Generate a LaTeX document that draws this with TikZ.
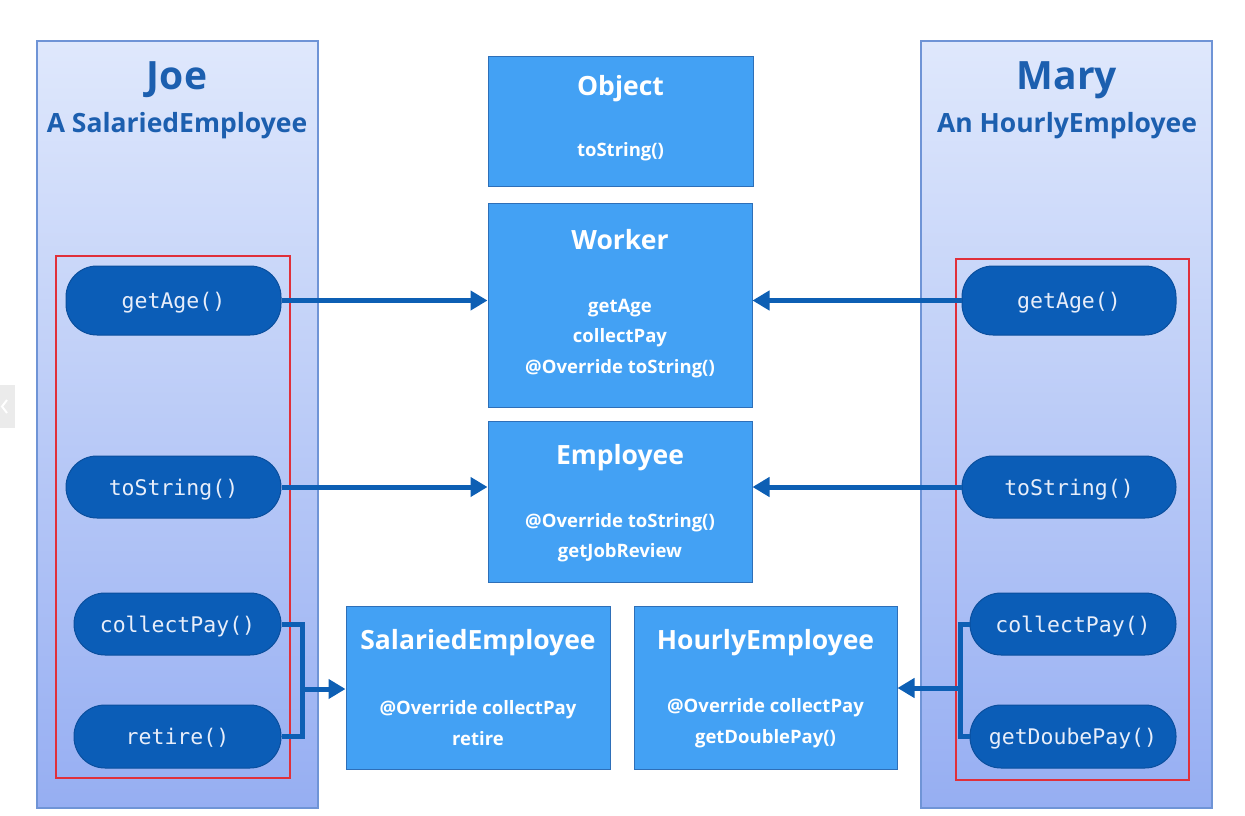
\documentclass[tikz,border=0pt]{standalone}
\usepackage{fontspec}
\setmainfont{Open Sans}
\setmonofont{DejaVu Sans Mono}
\usetikzlibrary{arrows.meta}
\definecolor{panelTop}{HTML}{DFE8FC}
\definecolor{panelBot}{HTML}{96AEF2}
\definecolor{panelEdge}{HTML}{6F94D6}
\definecolor{redEdge}{HTML}{E0303A}
\definecolor{boxFill}{HTML}{43A1F4}
\definecolor{boxEdge}{HTML}{2E6FB8}
\definecolor{pillFill}{HTML}{0B5DB7}
\definecolor{pillEdge}{HTML}{0A4F9E}
\definecolor{pillText}{HTML}{E8EEFA}
\definecolor{connCol}{HTML}{0D5FB4}
\definecolor{headCol}{HTML}{1C5FAF}
\tikzset{
  panel/.style={draw=panelEdge, line width=1.5pt, top color=panelTop, bottom color=panelBot, minimum width=#1, minimum height=767pt, inner sep=0pt},
  redbox/.style={draw=redEdge, line width=2pt},
  classbox/.style={draw=boxEdge, line width=1pt, fill=boxFill, inner sep=0pt},
  pill/.style={draw=pillEdge, line width=1pt, fill=pillFill, text=pillText, rounded corners=31pt, inner sep=0pt, text depth=0pt, font=\ttfamily\fontsize{21.5}{24}\selectfont},
  ctitle/.style={text=white, font=\bfseries\fontsize{26.5}{32}\selectfont},
  cbody/.style={text=white, font=\bfseries\fontsize{18.5}{30.5}\selectfont, align=center},
  pname/.style={text=headCol, font=\bfseries\fontsize{39}{44}\selectfont},
  ptype/.style={text=headCol, font=\bfseries\fontsize{26.5}{30}\selectfont},
  conn/.style={draw=connCol, line width=5pt, -{Triangle[length=17pt,width=19pt]}},
  connline/.style={draw=connCol, line width=5pt},
}
\begin{document}
\begin{tikzpicture}[x=1pt,y=-1pt]
\useasboundingbox[fill=white] (0,0) rectangle (1245,816);
% side tab
\fill[black!8] (0,385) rectangle (15,428);
\draw[white, line width=2pt] (7,400) -- (2,406.5) -- (7,413);
% panels
\node[panel=281pt] (joe) at (177.5,424.5) {};
\node[panel=291pt] (mary) at (1066.5,424.5) {};
\node[pname] (joename) at (177,80) {Joe};
\node[ptype] (joetype) at (177,126) {A SalariedEmployee};
\node[pname] (maryname) at (1067,80) {Mary};
\node[ptype] (marytype) at (1067,126) {An HourlyEmployee};
\draw[redbox] (56,256) rectangle (290,778);
\draw[redbox] (956,259) rectangle (1189,780);
% class boxes
\node[classbox, minimum width=265pt, minimum height=129pt] (obj) at (620.5,121.5) {};
\node[classbox, minimum width=264pt, minimum height=204pt] (wk) at (620,305) {};
\node[classbox, minimum width=264pt, minimum height=161pt] (emp) at (620,501.5) {};
\node[classbox, minimum width=264pt, minimum height=163pt] (se) at (478,687.5) {};
\node[classbox, minimum width=263pt, minimum height=163pt] (he) at (765.5,687.5) {};
\node[ctitle] (objt) at (620.5,89) {Object};
\node[cbody] (objb) at (620.5,152) {toString()};
\node[ctitle] (wkt) at (620,240) {Worker};
\node[cbody] (wkb) at (620,338.5) {getAge\\collectPay\\@Override toString()};
\node[ctitle] (empt) at (620,457.5) {Employee};
\node[cbody] (empb) at (620,537.5) {@Override toString()\\getJobReview};
\node[ctitle] (set) at (478,642.5) {SalariedEmployee};
\node[cbody] (seb) at (478,723) {@Override collectPay\\retire};
\node[ctitle] (het) at (765.5,642.5) {HourlyEmployee};
\node[cbody] (heb) at (765.5,723) {@Override collectPay\\getDoublePay()};
% pills left
\node[pill, minimum width=215pt, minimum height=69pt] (jage) at (173.5,300.5) {getAge()};
\node[pill, minimum width=215pt, minimum height=62pt] (jstr) at (173.5,487) {toString()};
\node[pill, minimum width=207pt, minimum height=62pt] (jcp) at (177.5,624) {collectPay()};
\node[pill, minimum width=207pt, minimum height=63pt] (jret) at (177.5,736.5) {retire()};
% pills right
\node[pill, minimum width=214pt, minimum height=69pt] (mage) at (1069,300.5) {getAge()};
\node[pill, minimum width=214pt, minimum height=62pt] (mstr) at (1069,487) {toString()};
\node[pill, minimum width=206pt, minimum height=62pt] (mcp) at (1073,624) {collectPay()};
\node[pill, minimum width=206pt, minimum height=63pt] (mdp) at (1073,736.5) {getDoubePay()};
% connectors
\draw[conn] (jage.east) -- (jage.east -| wk.west);
\draw[conn] (jstr.east) -- (jstr.east -| emp.west);
\draw[conn] (mage.west) -- (mage.west -| wk.east);
\draw[conn] (mstr.west) -- (mstr.west -| emp.east);
\coordinate (jb) at (302,689);
\coordinate (mb) at (960,688);
\draw[connline] (jcp.east) -| (jb) |- (jret.east);
\draw[conn] (jb) -- (jb -| se.west);
\draw[connline] (mcp.west) -| (mb) |- (mdp.west);
\draw[conn] (mb) -- (mb -| he.east);
\end{tikzpicture}
\end{document}
